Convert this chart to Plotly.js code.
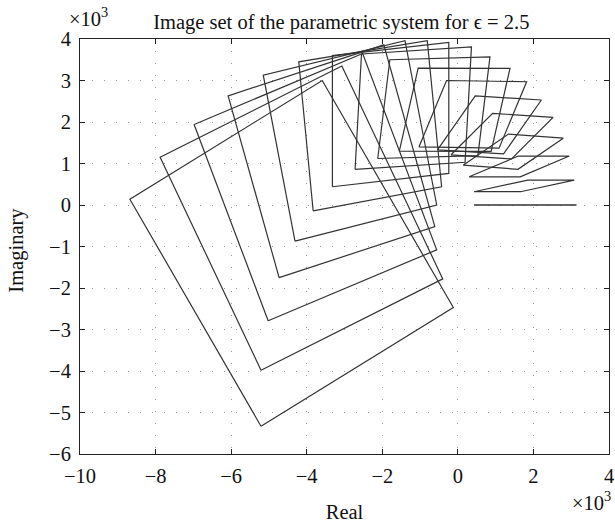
<!DOCTYPE html>
<html>
<head>
<meta charset="utf-8">
<script src="https://cdn.plot.ly/plotly-3.0.1.min.js"></script>
<style>html,body{margin:0;padding:0;background:#fff}#chart{width:615px;height:523px}</style>
</head>
<body>
<div id="chart"></div>
<script>
// vertices of each image polygon (units of 10^3), from largest (highest frequency) to smallest
const bX = [-5.21,-5.21,-5.02,-4.73,-4.31,-3.83,-3.32,-2.72,-2.12,-1.55,-1.03,-0.54,-0.18,0.14,0.30,0.43];
const bY = [-5.33,-3.98,-2.79,-1.75,-0.87,-0.14,0.44,0.86,1.12,1.30,1.40,1.33,1.21,0.96,0.68,0.32];
const rX = [-0.12,-0.40,-0.56,-0.61,-0.56,-0.43,-0.24,0.19,0.53,0.88,1.09,1.21,1.42,1.59,1.65,1.66];
const rY = [-2.47,-1.78,-1.08,-0.52,0.00,0.44,0.76,1.03,1.19,1.29,1.37,1.23,1.11,0.86,0.68,0.32];
const tX = [-3.59,-3.07,-2.52,-1.96,-1.40,-0.81,-0.24,0.36,0.85,1.38,1.82,2.21,2.52,2.79,2.95,3.08];
const tY = [3.00,3.35,3.65,3.86,3.96,3.96,3.92,3.81,3.57,3.29,2.97,2.53,2.11,1.61,1.18,0.60];
const lX = [-8.68,-7.88,-6.98,-6.08,-5.15,-4.21,-3.32,-2.55,-1.80,-1.05,-0.30,0.46,0.92,1.34,1.60,1.85];
const lY = [0.14,1.15,1.94,2.63,3.13,3.45,3.60,3.64,3.50,3.30,3.00,2.63,2.21,1.71,1.18,0.60];
// zero-frequency image: a segment on the real axis
const segX = [0.43, 3.14];
const segY = [0, 0];

const traces = [];
for (let i = 0; i < bX.length; i++) {
  traces.push({
    type: 'scatter', mode: 'lines', hoverinfo: 'skip', showlegend: false,
    x: [bX[i], rX[i], tX[i], lX[i], bX[i]],
    y: [bY[i], rY[i], tY[i], lY[i], bY[i]],
    line: {color: '#333', width: 1.2}
  });
}
traces.push({type:'scatter', mode:'lines', x: segX, y: segY, showlegend:false,
  line:{color:'#333', width:1.6}});

const font = {family: '"Liberation Serif", "Times New Roman", serif', size: 20.5, color: '#111'};
const axisCommon = {
  showline: true, linecolor: '#222', linewidth: 1, mirror: 'ticks',
  ticks: 'inside', ticklen: 5, tickcolor: '#222',
  showgrid: true, gridcolor: '#999', gridwidth: 1, griddash: '1px,11px',
  zeroline: false, tickfont: font
};
const layout = {
  width: 615, height: 523,
  margin: {l: 80, r: 6, t: 39, b: 69},
  paper_bgcolor: '#fff', plot_bgcolor: '#fff',
  font: font,
  title: {text: 'Image set of the parametric system for ϵ = 2.5', font: font,
          x: 0.555, xanchor: 'center', y: 0.958, yanchor: 'middle'},
  xaxis: Object.assign({}, axisCommon, {range: [-10, 4], dtick: 2, tick0: 0, ticklabelstandoff: 3,
          title: {text: 'Real', font: font, standoff: 20}}),
  yaxis: Object.assign({}, axisCommon, {range: [-6, 4], dtick: 1, tick0: 0, ticklabelstandoff: 4}),
  annotations: [
    {text: 'Imaginary', xref: 'paper', yref: 'paper', x: (17 - 80) / 529, y: 0.49, xanchor: 'center', yanchor: 'middle',
     textangle: -90, showarrow: false, font: font},
    {text: '×10<sup>3</sup>', xref: 'paper', yref: 'paper', x: 0, y: 1, xanchor: 'center', yanchor: 'bottom',
     yshift: 7, xshift: 8, showarrow: false, font: font},
    {text: '×10<sup>3</sup>', xref: 'paper', yref: 'paper', x: 1, y: 0, xanchor: 'right', yanchor: 'top',
     yshift: -32, xshift: 4, showarrow: false, font: font}
  ]
};
Plotly.newPlot('chart', traces, layout, {displayModeBar: false, staticPlot: true});
</script>
</body>
</html>
